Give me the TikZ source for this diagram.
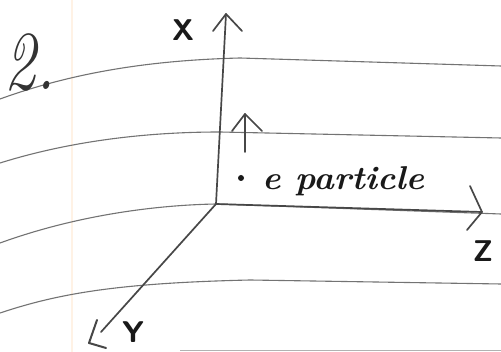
\documentclass[tikz,border=0pt]{standalone}
\begin{document}
\begin{tikzpicture}[x=1pt,y=-1pt,
  rule/.style={draw=black!55, line width=1.1pt},
  faintrule/.style={draw=black!30, line width=1pt},
  margin/.style={draw=orange!10, line width=1.2pt},
  axis/.style={draw=black!72, line width=1.7pt, line cap=round, line join=round},
  hand/.style={font=\bfseries\itshape\fontsize{33}{33}\selectfont, text=black!90, inner sep=0pt},
  axlabel/.style={font=\sffamily\bfseries\fontsize{30}{30}\selectfont, text=black!90, inner sep=0pt}]
\useasboundingbox (0,0) rectangle (501,352);
\fill[white] (0,0) rectangle (501,352);
% notebook paper
\draw[margin] (72,0) -- (72,352);
\draw[rule] (0,99) .. controls (80,70) and (160,60) .. (240,58) -- (501,66);
\draw[rule] (0,163) .. controls (80,138) and (160,132) .. (220,132) -- (501,138);
\draw[rule] (0,243) .. controls (80,214) and (160,205) .. (216,204) -- (501,214);
\draw[rule] (0,313) .. controls (60,293) and (120,283) .. (250,280) -- (501,284);
\draw[faintrule] (180,351) -- (501,351);
% axes
\coordinate (O) at (216,204);
\coordinate (xtip) at (226,14);
\coordinate (ztip) at (482,212);
\coordinate (yend) at (101,332);
\coordinate (ytip) at (89,343);
\coordinate (ptail) at (245,152);
\coordinate (ptip) at (245,114);
\draw[axis] (O) -- (xtip);
\draw[axis] (213,31) -- (xtip) -- (242,31);
\draw[axis] (O) -- (ztip);
\draw[axis] (470,186) -- (ztip) -- (467,230);
\draw[axis] (O) -- (yend);
\draw[axis, line width=2pt] (97,320) -- (ytip) -- (106,348);
\draw[axis] (ptail) -- (ptip);
\draw[axis] (232,131) -- (ptip) -- (262,131);
% particle
\fill[black!90] (241,178) circle (3);
\node[hand, anchor=base west, xscale=1.05] (lbl) at (262,190) {e particle};
% labels
\node[axlabel] (xl) at (183,30) {X};
\node[axlabel] (zl) at (483,251) {Z};
\node[axlabel] (yl) at (133,332) {Y};
\node[font=\itshape\fontsize{84}{84}\selectfont, text=black!80, inner sep=0pt, xscale=0.75] (num) at (30,62) {2.};
\end{tikzpicture}
\end{document}
